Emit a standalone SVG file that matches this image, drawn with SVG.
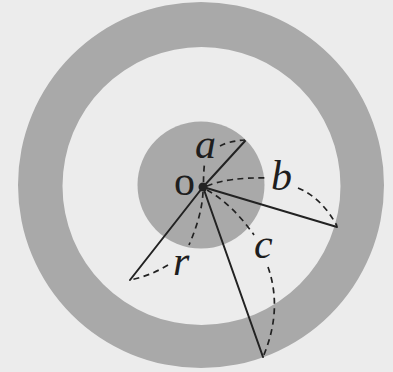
<svg xmlns="http://www.w3.org/2000/svg" width="393" height="372" viewBox="0 0 393 372">
  <style>
    .gray { fill: #a9a9a9; }
    .solid { fill: none; stroke: #222222; stroke-width: 2; stroke-linecap: round; }
    .dash { fill: none; stroke: #222222; stroke-width: 1.7; stroke-dasharray: 6 4.5; }
    .lbl { font-family: "Liberation Serif", "DejaVu Serif", serif; font-size: 42px; font-style: italic; fill: #1e1e1e; }
    .up { font-style: normal; }
  </style>
  <rect x="0" y="0" width="393" height="372" fill="#ececec"/>
  <g id="outer-ring">
    <path class="gray" fill-rule="evenodd" d="M18,185 a183,183 0 1,0 366,0 a183,183 0 1,0 -366,0 Z M62.5,186 a139,139 0 1,0 278,0 a139,139 0 1,0 -278,0 Z"/>
  </g>
  <g id="inner-disk">
    <circle class="gray" cx="201" cy="185" r="63.5"/>
  </g>
  <g id="connectors">
    <line class="solid" x1="203" y1="187" x2="245" y2="141"/>
    <line class="solid" x1="203" y1="187" x2="337" y2="227"/>
    <line class="solid" x1="203" y1="187" x2="130" y2="280"/>
    <line class="solid" x1="203" y1="187" x2="263" y2="357"/>
    <path class="dash" d="M203.5,182 Q203.5,174 204.5,163"/>
    <path class="dash" d="M220,146 Q229,141 245,140"/>
    <path class="dash" d="M207,186 Q228,177 269,178"/>
    <path class="dash" d="M298,188 Q322,198 337,226"/>
    <path class="dash" d="M207,190 Q232,204 254,235"/>
    <path class="dash" d="M268,267 Q283,310 263,357"/>
    <path class="dash" d="M203,192 Q202,215 189,245"/>
    <path class="dash" d="M168,265 Q150,276 130,280"/>
  </g>
  <g id="center-o">
    <circle cx="203" cy="187" r="4.5" fill="#222222"/>
    <text class="lbl up" x="174" y="195">o</text>
  </g>
  <g id="label-a"><text class="lbl" x="195" y="158">a</text></g>
  <g id="label-b"><text class="lbl" x="271" y="190">b</text></g>
  <g id="label-c"><text class="lbl" x="254" y="258">c</text></g>
  <g id="label-r"><text class="lbl" x="173" y="275">r</text></g>
</svg>
